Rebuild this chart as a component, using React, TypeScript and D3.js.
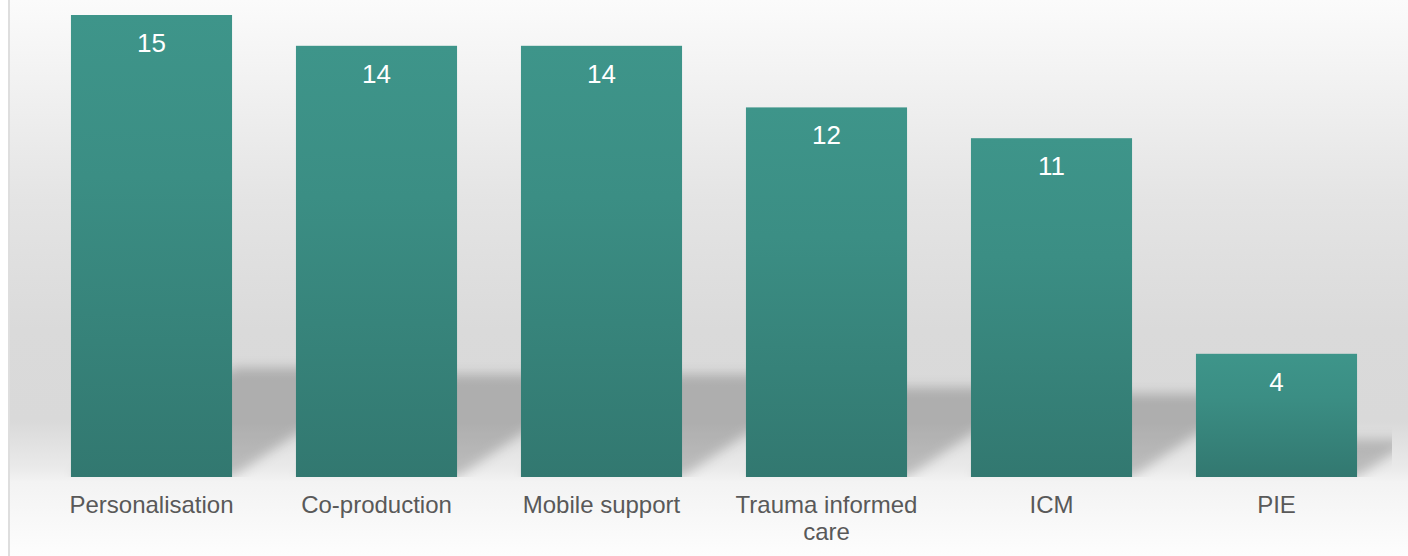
import React, { useEffect, useRef } from "react";
import * as d3 from "d3";

const categories: string[] = [
  "Personalisation",
  "Co-production",
  "Mobile support",
  "Trauma informed care",
  "ICM",
  "PIE",
];
const values: number[] = [15, 14, 14, 12, 11, 4];

const W = 1408;
const H = 556;
const FONT = "'Liberation Sans', Arial, Helvetica, sans-serif";

export default function App() {
  const ref = useRef<SVGSVGElement>(null);

  useEffect(() => {
    const svg = d3.select(ref.current);
    svg.selectAll("*").remove();
    const defs = svg.append("defs");

    // background gradient
    const bg = defs
      .append("linearGradient")
      .attr("id", "bgGrad")
      .attr("gradientUnits", "userSpaceOnUse")
      .attr("x1", 0)
      .attr("x2", 0)
      .attr("y1", 0)
      .attr("y2", H);
    [
      [0, "#fbfbfb"],
      [200, "#e4e4e4"],
      [330, "#dadada"],
      [420, "#d9d9d9"],
      [468, "#eaeaea"],
      [482, "#f3f3f3"],
      [556, "#fdfdfd"],
    ].forEach(([o, c]) =>
      bg.append("stop").attr("offset", (o as number) / H).attr("stop-color", c as string)
    );

    const barGrad = defs
      .append("linearGradient")
      .attr("id", "barGrad")
      .attr("x1", 0)
      .attr("x2", 0)
      .attr("y1", 0)
      .attr("y2", 1);
    barGrad.append("stop").attr("offset", 0).attr("stop-color", "#3e958a");
    barGrad.append("stop").attr("offset", 0.35).attr("stop-color", "#3b8e84");
    barGrad.append("stop").attr("offset", 1).attr("stop-color", "#327870");

    const blur = defs
      .append("filter")
      .attr("id", "shBlur")
      .attr("x", "-20%")
      .attr("y", "-20%")
      .attr("width", "140%")
      .attr("height", "140%");
    blur.append("feGaussianBlur").attr("stdDeviation", 6);

    const x = d3
      .scaleBand<string>()
      .domain(categories)
      .range([39, 1389])
      .paddingInner(0.284)
      .paddingOuter(0.142);
    const y = d3.scaleLinear().domain([0, 15]).range([477, 15]);
    const base = y(0);

    defs
      .append("clipPath")
      .attr("id", "plotClip")
      .append("rect")
      .attr("x", 10)
      .attr("y", 0)
      .attr("width", 1392 - 10)
      .attr("height", base);

    svg.append("rect").attr("width", W).attr("height", H).attr("fill", "#ffffff");
    svg
      .append("rect")
      .attr("x", 8)
      .attr("y", 0)
      .attr("width", W - 8)
      .attr("height", H)
      .attr("fill", "url(#bgGrad)");
    svg
      .append("line")
      .attr("x1", 9)
      .attr("x2", 9)
      .attr("y1", 0)
      .attr("y2", H)
      .attr("stroke", "#dedede")
      .attr("stroke-width", 2);

    const data = categories.map((c, i) => ({ c, v: values[i] }));

    // perspective shadows
    const shadowG = svg.append("g").attr("clip-path", "url(#plotClip)");
    shadowG
      .append("g")
      .attr("filter", "url(#shBlur)")
      .selectAll("polygon")
      .data(data)
      .join("polygon")
      .attr("points", (d) => {
        const x0 = x(d.c)!;
        const x1 = x0 + x.bandwidth();
        const h = base - y(d.v);
        const sy = 0.21 * h + 12;
        const sx = 1.5 * sy;
        return [
          [x0, base],
          [x1, base],
          [x1 + sx, base - sy],
          [x0 + sx, base - sy],
        ]
          .map((p) => p.join(","))
          .join(" ");
      })
      .attr("fill", "#000")
      .attr("fill-opacity", 0.2);

    // bars
    svg
      .append("g")
      .selectAll("rect")
      .data(data)
      .join("rect")
      .attr("x", (d) => x(d.c)!)
      .attr("y", (d) => y(d.v))
      .attr("width", x.bandwidth())
      .attr("height", (d) => base - y(d.v))
      .attr("fill", "url(#barGrad)");

    // value labels
    svg
      .append("g")
      .selectAll("text")
      .data(data)
      .join("text")
      .attr("x", (d) => x(d.c)! + x.bandwidth() / 2)
      .attr("y", (d) => y(d.v) + 37)
      .attr("text-anchor", "middle")
      .attr("font-family", FONT)
      .attr("font-size", 26)
      .attr("fill", "#ffffff")
      .text((d) => String(d.v));

    // category labels with wrapping
    const maxW = 205;
    const labels = svg
      .append("g")
      .selectAll("text")
      .data(data)
      .join("text")
      .attr("x", (d) => x(d.c)! + x.bandwidth() / 2)
      .attr("y", 513)
      .attr("text-anchor", "middle")
      .attr("font-family", FONT)
      .attr("font-size", 24)
      .attr("fill", "#595959");

    labels.each(function (d) {
      const text = d3.select(this);
      const cx = x(d.c)! + x.bandwidth() / 2;
      const words = d.c.split(/\s+/);
      let line: string[] = [];
      let tspan = text.append("tspan").attr("x", cx).attr("dy", 0);
      for (const w of words) {
        line.push(w);
        tspan.text(line.join(" "));
        if ((tspan.node() as SVGTSpanElement).getComputedTextLength() > maxW && line.length > 1) {
          line.pop();
          tspan.text(line.join(" "));
          line = [w];
          tspan = text.append("tspan").attr("x", cx).attr("dy", 27).text(w);
        }
      }
    });
  }, []);

  return (
    <svg
      ref={ref}
      width={W}
      height={H}
      style={{ position: "absolute", left: 0, top: 0, display: "block" }}
    />
  );
}
